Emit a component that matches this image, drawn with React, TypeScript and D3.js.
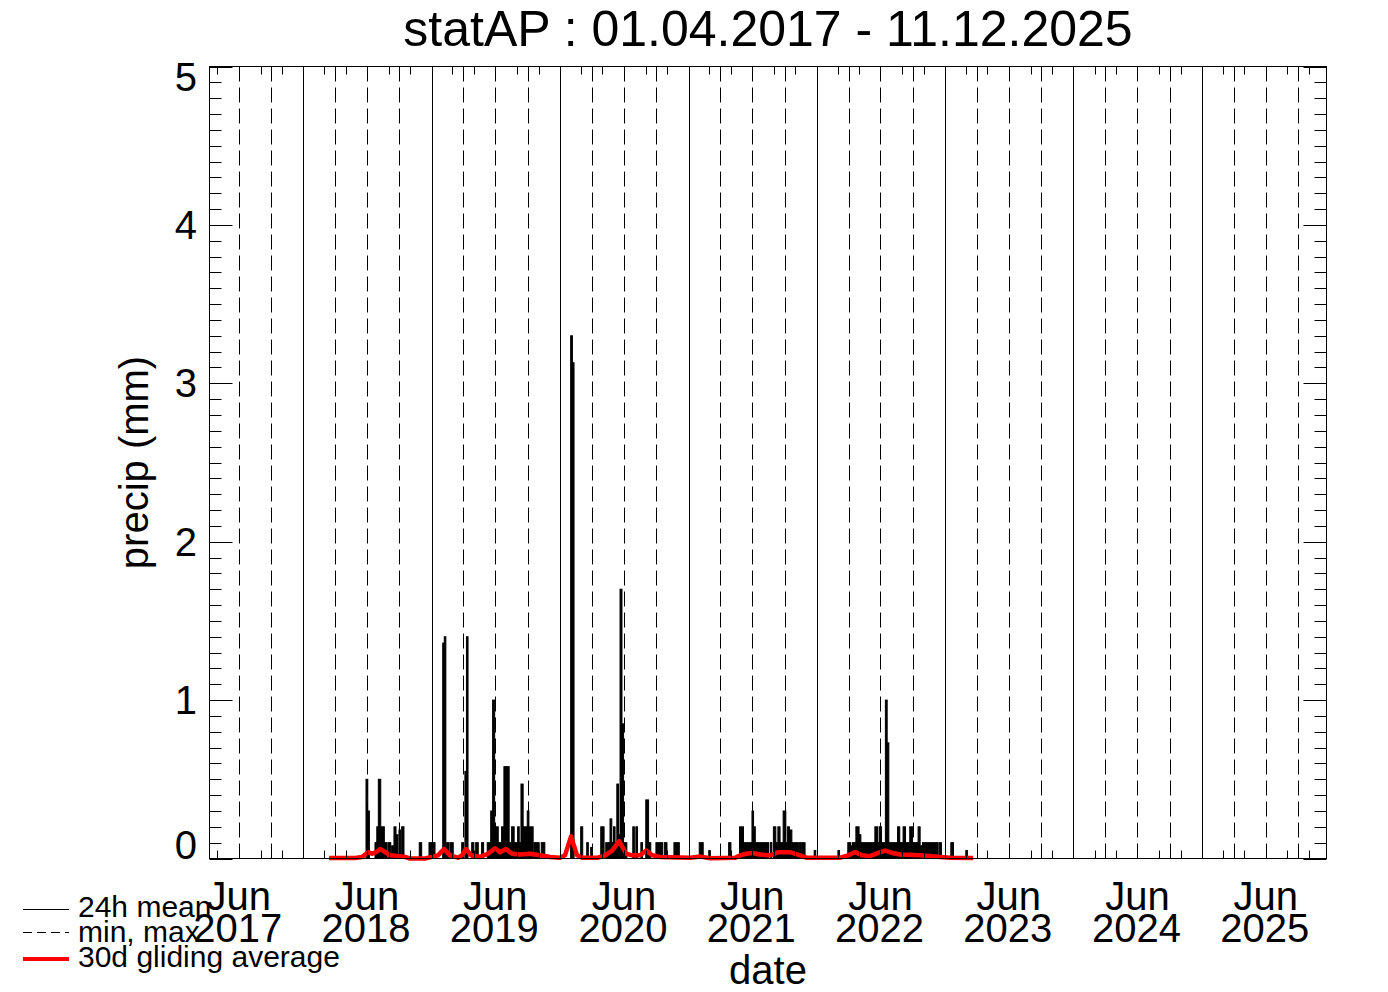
import React from 'react';
import * as d3 from 'd3';

// ---- data ----
const titleText = 'statAP : 01.04.2017 - 11.12.2025';
const yTickValues = [0, 1, 2, 3, 4, 5];
const xLabelYears = [2017, 2018, 2019, 2020, 2021, 2022, 2023, 2024, 2025];
const xLabelMonth = 'Jun';
const gridYears = [2018, 2019, 2020, 2021, 2022, 2023, 2024, 2025];
const quarterMonths = [3, 6, 9]; // Apr, Jul, Oct (0-based)
const domainStart = 2017.268;
const domainEnd = 2025.97;

// 24h mean precipitation: [start (decimal year), end (decimal year), mm]
const dailyPrecip: [number, number, number][] = [
  [2018.488, 2018.502, 0.5], [2018.502, 2018.514, 0.3], [2018.558, 2018.572, 0.1],
  [2018.572, 2018.584, 0.2], [2018.584, 2018.603, 0.5], [2018.603, 2018.631, 0.2],
  [2018.631, 2018.652, 0.1], [2018.66, 2018.681, 0.1], [2018.688, 2018.706, 0.08],
  [2018.706, 2018.722, 0.2], [2018.722, 2018.737, 0.15], [2018.745, 2018.757, 0.18],
  [2018.766, 2018.784, 0.2],
  [2018.903, 2018.922, 0.1], [2018.979, 2019.026, 0.1], [2019.086, 2019.098, 1.36],
  [2019.098, 2019.109, 1.4], [2019.117, 2019.135, 0.1], [2019.143, 2019.168, 0.1],
  [2019.234, 2019.249, 0.1], [2019.259, 2019.271, 0.55], [2019.271, 2019.283, 1.4],
  [2019.312, 2019.329, 0.1], [2019.343, 2019.363, 0.1], [2019.389, 2019.405, 0.1],
  [2019.433, 2019.46, 0.1], [2019.46, 2019.472, 0.3], [2019.475, 2019.491, 1.0],
  [2019.491, 2019.519, 0.2], [2019.519, 2019.545, 0.1], [2019.545, 2019.563, 0.2],
  [2019.563, 2019.604, 0.58], [2019.604, 2019.623, 0.1], [2019.623, 2019.643, 0.2],
  [2019.643, 2019.67, 0.1], [2019.67, 2019.682, 0.2], [2019.682, 2019.696, 0.1],
  [2019.696, 2019.713, 0.47], [2019.713, 2019.745, 0.2], [2019.745, 2019.758, 0.3],
  [2019.758, 2019.791, 0.2], [2019.797, 2019.838, 0.1], [2019.854, 2019.882, 0.1],
  [2020.083, 2020.097, 3.3], [2020.097, 2020.104, 3.13], [2020.161, 2020.177, 0.2],
  [2020.208, 2020.218, 0.1], [2020.239, 2020.247, 0.07], [2020.317, 2020.343, 0.2],
  [2020.356, 2020.369, 0.1], [2020.377, 2020.389, 0.1], [2020.389, 2020.403, 0.25],
  [2020.403, 2020.416, 0.1], [2020.416, 2020.428, 0.2], [2020.428, 2020.442, 0.1],
  [2020.442, 2020.455, 0.47], [2020.455, 2020.467, 0.15], [2020.467, 2020.482, 1.7],
  [2020.482, 2020.491, 0.85], [2020.491, 2020.52, 0.1], [2020.566, 2020.576, 0.2],
  [2020.59, 2020.603, 0.2], [2020.629, 2020.642, 0.1], [2020.667, 2020.689, 0.37],
  [2020.689, 2020.706, 0.1], [2020.746, 2020.798, 0.1], [2020.811, 2020.832, 0.1],
  [2020.886, 2020.928, 0.1],
  [2021.083, 2021.114, 0.1], [2021.157, 2021.164, 0.05], [2021.312, 2021.33, 0.1],
  [2021.397, 2021.428, 0.2], [2021.428, 2021.494, 0.1], [2021.494, 2021.506, 0.3],
  [2021.506, 2021.52, 0.2], [2021.52, 2021.623, 0.1], [2021.636, 2021.649, 0.1],
  [2021.661, 2021.68, 0.2], [2021.68, 2021.696, 0.1], [2021.696, 2021.713, 0.2],
  [2021.713, 2021.737, 0.1], [2021.737, 2021.758, 0.3], [2021.758, 2021.77, 0.1],
  [2021.77, 2021.786, 0.2], [2021.786, 2021.805, 0.18], [2021.805, 2021.856, 0.1],
  [2021.864, 2021.882, 0.1], [2021.888, 2021.908, 0.1], [2021.979, 2021.987, 0.05],
  [2022.164, 2022.171, 0.05], [2022.241, 2022.265, 0.1], [2022.265, 2022.278, 0.08],
  [2022.278, 2022.304, 0.1], [2022.304, 2022.329, 0.2], [2022.329, 2022.343, 0.15],
  [2022.343, 2022.452, 0.1], [2022.452, 2022.473, 0.2], [2022.473, 2022.485, 0.1],
  [2022.485, 2022.504, 0.2], [2022.504, 2022.534, 0.1], [2022.534, 2022.548, 1.0],
  [2022.548, 2022.561, 0.73], [2022.561, 2022.629, 0.1], [2022.629, 2022.646, 0.2],
  [2022.646, 2022.672, 0.1], [2022.672, 2022.691, 0.2], [2022.691, 2022.724, 0.1],
  [2022.724, 2022.745, 0.2], [2022.745, 2022.789, 0.1], [2022.789, 2022.805, 0.2],
  [2022.805, 2022.823, 0.08], [2022.823, 2022.945, 0.1], [2022.953, 2022.971, 0.1],
  [2023.044, 2023.065, 0.1], [2023.161, 2023.168, 0.05],
];

// 30d gliding average: [decimal year, mm]
const gliding30d: [number, number][] = [
  [2018.2, 0.003], [2018.403, 0.003], [2018.457, 0.01], [2018.504, 0.04], [2018.535, 0.03],
  [2018.566, 0.04], [2018.598, 0.06], [2018.629, 0.045], [2018.676, 0.02], [2018.753, 0.015],
  [2018.792, 0.01], [2018.831, 0.0], [2018.948, 0.0], [2019.003, 0.01], [2019.049, 0.02],
  [2019.096, 0.06], [2019.143, 0.02], [2019.205, 0.005], [2019.236, 0.02], [2019.268, 0.06],
  [2019.307, 0.02], [2019.377, 0.01], [2019.439, 0.03], [2019.494, 0.065], [2019.533, 0.04],
  [2019.579, 0.06], [2019.626, 0.03], [2019.689, 0.025], [2019.767, 0.03], [2019.845, 0.02],
  [2019.923, 0.01], [2020.0, 0.005], [2020.039, 0.02], [2020.086, 0.14], [2020.133, 0.02],
  [2020.172, 0.005], [2020.296, 0.005], [2020.351, 0.02], [2020.406, 0.05], [2020.46, 0.11],
  [2020.515, 0.03], [2020.561, 0.02], [2020.624, 0.02], [2020.67, 0.05], [2020.717, 0.02],
  [2020.78, 0.01], [2021.013, 0.005], [2021.091, 0.012], [2021.169, 0.002], [2021.364, 0.005],
  [2021.402, 0.02], [2021.449, 0.03], [2021.496, 0.035], [2021.558, 0.025], [2021.636, 0.02],
  [2021.699, 0.04], [2021.792, 0.04], [2021.87, 0.02], [2021.917, 0.005], [2022.182, 0.005],
  [2022.244, 0.02], [2022.298, 0.04], [2022.353, 0.02], [2022.415, 0.015], [2022.478, 0.035],
  [2022.532, 0.05], [2022.587, 0.035], [2022.649, 0.025], [2022.805, 0.02], [2022.961, 0.01],
  [2023.039, 0.005], [2023.218, 0.003],
];

const legendItems = [
  { label: '24h mean', kind: 'solid' },
  { label: 'min, max', kind: 'dashed' },
  { label: '30d gliding average', kind: 'red' },
];

function decToDate(d: number): Date {
  const yr = Math.floor(d);
  const t0 = Date.UTC(yr, 0, 1);
  const t1 = Date.UTC(yr + 1, 0, 1);
  return new Date(t0 + (d - yr) * (t1 - t0));
}

export default function App() {
  const W = 1388, H = 992;
  const L = 209.5, R = 1326.5, T = 66.5, B = 858.5;
  const font = '"Liberation Sans", Arial, Helvetica, sans-serif';

  const x = d3.scaleUtc().domain([decToDate(domainStart), decToDate(domainEnd)]).range([L, R]);
  const y = d3.scaleLinear().domain([0, 5]).range([B, T]);
  const [d0, d1] = x.domain();

  const quarterDates: Date[] = [];
  for (let yr = 2017; yr <= 2025; yr++) {
    quarterMonths.forEach((m) => {
      const d = new Date(Date.UTC(yr, m, 1));
      if (d > d0 && d < d1) quarterDates.push(d);
    });
  }
  const monthTicks = d3.utcMonth.every(2)!.range(d0, d1);
  const minorY = d3.range(0, 50).map((i) => i / 10).filter((v) => Math.round(v * 10) % 10 !== 0);

  const line = d3.line<[number, number]>()
    .x((d) => x(decToDate(d[0])))
    .y((d) => y(d[1]));

  return (
    <svg width={W} height={H} style={{ position: 'absolute', left: 0, top: 0, background: '#fff' }}
      fontFamily={font}>
      <rect x={0} y={0} width={W} height={H} fill="#fff" />
      {/* grid: solid year lines */}
      {gridYears.map((yr) => {
        const xx = Math.round(x(new Date(Date.UTC(yr, 0, 1)))) + 0.5;
        return <line key={'y' + yr} x1={xx} x2={xx} y1={T} y2={B} stroke="#000" strokeWidth={1} />;
      })}
      {quarterDates.map((d, i) => {
        const xx = Math.round(x(d)) + 0.5;
        return <line key={'q' + i} x1={xx} x2={xx} y1={T} y2={B} stroke="#000" strokeWidth={1}
          strokeDasharray="15,6" />;
      })}
      {/* 24h mean bars */}
      {dailyPrecip.map(([s, e, v], i) => {
        const x0 = x(decToDate(s));
        const x1 = x(decToDate(e));
        return <rect key={'b' + i} x={x0} y={y(v)} width={Math.max(1.6, x1 - x0)} height={B - y(v)}
          fill="#000" stroke="#000" strokeWidth={1} />;
      })}
      {/* 30d gliding average */}
      <path d={line(gliding30d) || ''} fill="none" stroke="#ff0000" strokeWidth={4.5} strokeLinejoin="round" />
      {/* frame */}
      <rect x={L} y={T} width={R - L} height={B - T} fill="none" stroke="#000" strokeWidth={1} />
      {/* x minor ticks */}
      {monthTicks.map((d, i) => {
        const xx = Math.round(x(d)) + 0.5;
        return (
          <g key={'mt' + i}>
            <line x1={xx} x2={xx} y1={B} y2={B - 8} stroke="#000" />
            <line x1={xx} x2={xx} y1={T} y2={T + 8} stroke="#000" />
          </g>
        );
      })}
      {/* y ticks */}
      {yTickValues.map((v) => (
        <g key={'yt' + v}>
          <line x1={L} x2={L + 23} y1={Math.round(y(v)) + 0.5} y2={Math.round(y(v)) + 0.5} stroke="#000" />
          <line x1={R} x2={R - 23} y1={Math.round(y(v)) + 0.5} y2={Math.round(y(v)) + 0.5} stroke="#000" />
        </g>
      ))}
      {minorY.map((v) => (
        <g key={'ym' + v}>
          <line x1={L} x2={L + 12} y1={Math.round(y(v)) + 0.5} y2={Math.round(y(v)) + 0.5} stroke="#000" />
          <line x1={R} x2={R - 12} y1={Math.round(y(v)) + 0.5} y2={Math.round(y(v)) + 0.5} stroke="#000" />
        </g>
      ))}
      {/* y labels */}
      {yTickValues.map((v, i) => {
        const dy = i === 0 ? 0 : i === yTickValues.length - 1 ? 24 : 14;
        return <text key={'yl' + v} x={197} y={y(v) + dy} fontSize={40} textAnchor="end" fill="#000">{v}</text>;
      })}
      {/* x labels */}
      {xLabelYears.map((yr) => {
        const xx = x(new Date(Date.UTC(yr, 6, 1)));
        return (
          <g key={'xl' + yr}>
            <text x={xx} y={910} fontSize={40} textAnchor="middle" fill="#000">{xLabelMonth}</text>
            <text x={xx - 1} y={942} fontSize={40} textAnchor="middle" fill="#000">{yr}</text>
          </g>
        );
      })}
      {/* titles */}
      <text x={(L + R) / 2} y={46} fontSize={50} textAnchor="middle" fill="#000">{titleText}</text>
      <text x={(L + R) / 2} y={984} fontSize={40} textAnchor="middle" fill="#000">date</text>
      <text transform={`translate(148,${(T + B) / 2}) rotate(-90)`} fontSize={40} textAnchor="middle" fill="#000">precip (mm)</text>
      {/* legend */}
      {legendItems.map((it, i) => {
        const ly = [909.5, 932.5, 959][i];
        const ty = [917, 941.5, 967][i];
        return (
          <g key={'lg' + i}>
            <line x1={23} x2={69} y1={ly} y2={ly}
              stroke={it.kind === 'red' ? '#ff0000' : '#000'}
              strokeWidth={it.kind === 'red' ? 4 : 1}
              strokeDasharray={it.kind === 'dashed' ? '9,5' : undefined} />
            <text x={78} y={ty} fontSize={30} fill="#000">{it.label}</text>
          </g>
        );
      })}
    </svg>
  );
}
